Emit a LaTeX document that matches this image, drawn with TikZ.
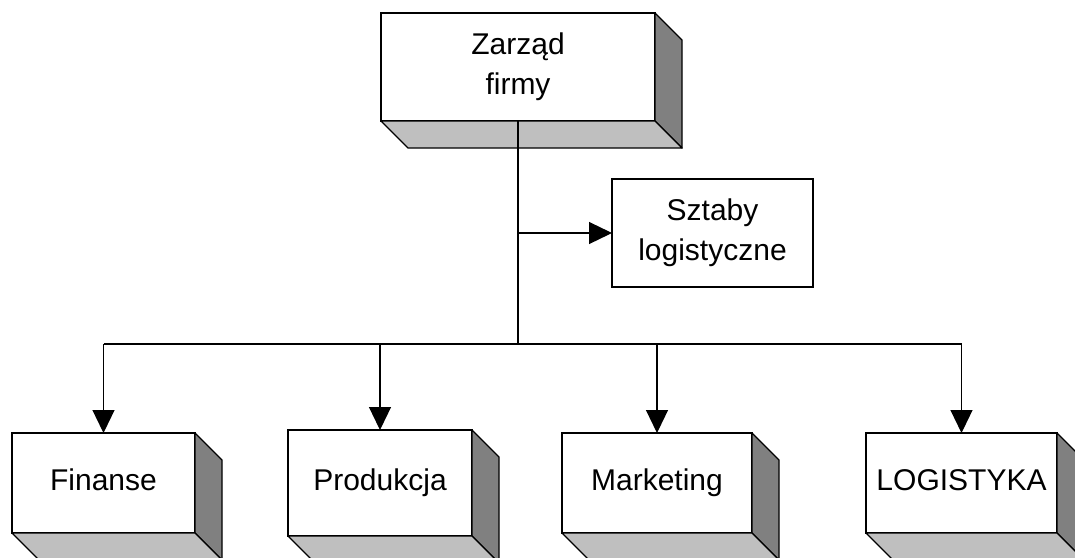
\documentclass[tikz,border=0pt]{standalone}
\usepackage{fontspec}
\setmainfont{Liberation Sans}
\usetikzlibrary{arrows.meta}

% front face of a unit, with its depth faces added by \unitdepth
\tikzset{
  unit/.style={draw=black, line width=1.4pt, fill=white, rectangle, outer sep=0pt,
    inner sep=0pt, align=center,
    font=\fontsize{30}{40}\selectfont},
  dept/.style={unit, text height=22pt, text depth=7pt},
  sideface/.style={draw=black, line width=1.4pt, fill=black!50, line join=round},
  bottomface/.style={draw=black, line width=1.4pt, fill=black!25, line join=round},
  link/.style={draw=black, line width=1.2pt},
  arrowlink/.style={link, -{Triangle[length=23pt,width=22pt]}},
}

\newcommand\unitdepth[1]{%
  \draw[sideface] (#1.north east) -- ([shift={(27,27)}]#1.north east)
    -- ([shift={(27,27)}]#1.south east) -- (#1.south east) -- cycle;
  \draw[bottomface] (#1.south west) -- ([shift={(27,27)}]#1.south west)
    -- ([shift={(27,27)}]#1.south east) -- (#1.south east) -- cycle;
}

\begin{document}
\begin{tikzpicture}[x=1pt, y=-1pt]
  \useasboundingbox (0,0) rectangle (1075,557);
  \clip (0,0) rectangle (1075,557);

  % board
  \node[unit, minimum width=274pt, minimum height=108pt] (board) at (518,67) {Zarząd\\firmy};
  \unitdepth{board}

  % staff unit
  \node[unit, minimum width=201pt, minimum height=108pt] (staff) at (712.5,233) {Sztaby\\logistyczne};

  % departments
  \node[dept, minimum width=183pt, minimum height=100pt] (fin) at (103.5,483) {Finanse};
  \unitdepth{fin}
  \node[dept, minimum width=184pt, minimum height=106pt] (prod) at (380,483) {Produkcja};
  \unitdepth{prod}
  \node[dept, minimum width=190pt, minimum height=100pt] (mkt) at (657,483) {Marketing};
  \unitdepth{mkt}
  \node[dept, minimum width=191pt, minimum height=100pt] (log) at (961.5,483) {LOGISTYKA};
  \unitdepth{log}

  % connectors
  \coordinate (bus) at (518,344);
  \draw[link] (board.south) -- (bus);
  \draw[arrowlink] (board.south |- staff.west) -- (staff.west);
  \draw[link] (fin.north |- bus) -- (log.north |- bus);
  \draw[arrowlink] (fin.north |- bus) -- (fin.north);
  \draw[arrowlink] (prod.north |- bus) -- (prod.north);
  \draw[arrowlink] (mkt.north |- bus) -- (mkt.north);
  \draw[arrowlink] (log.north |- bus) -- (log.north);
\end{tikzpicture}
\end{document}
